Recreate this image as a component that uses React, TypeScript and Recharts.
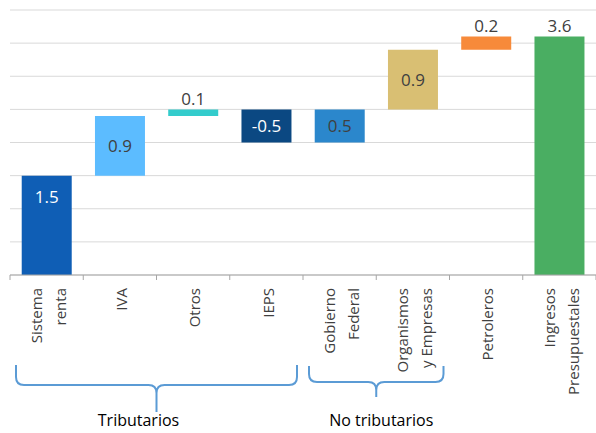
import { BarChart, Bar, XAxis, YAxis, CartesianGrid, Cell, LabelList } from 'recharts';

const categories = ['Sistema\nrenta', 'IVA', 'Otros', 'IEPS', 'Gobierno\nFederal', 'Organismos\ny Empresas', 'Petroleros', 'Ingresos\nPresupuestales'];
const changes = [1.5, 0.9, 0.1, -0.5, 0.5, 0.9, 0.2, 3.6];
const isTotal = [false, false, false, false, false, false, false, true];
const yTicks = [0, 0.5, 1, 1.5, 2, 2.5, 3, 3.5, 4];
const groupNames = ['Tributarios', 'No tributarios'];
const groupFirst = [0, 4];
const groupLast = [3, 5];

const barColors = ['#0F5EB5', '#5CBCFF', '#33CCCC', '#0B4882', '#2B87CC', '#D9BF73', '#F78A3A', '#4AAE62'];
const labelColors = ['#ffffff', '#404040', '#404040', '#ffffff', '#404040', '#404040', '#404040', '#404040'];

const W = 596;
const H = 433;
const margin = { top: 10, right: 0, bottom: 0, left: 10 };
const axisHeight = 158;
const baseY = H - axisHeight;
const band = (W - margin.left - margin.right) / categories.length;
const font = '"Open Sans", sans-serif';
const bracketColor = '#5B9BD5';

// waterfall: each step starts where the previous one ended, the total starts at zero
let running = 0;
const data = categories.map((name, i) => {
  const start = isTotal[i] ? 0 : running;
  const end = isTotal[i] ? changes[i] : running + changes[i];
  running = end;
  return { name, range: [Math.min(start, end), Math.max(start, end)] };
});

const CategoryTick = (props: any) => {
  const { x, payload, index } = props;
  const lines = String(payload.value).split('\n');
  const gap = 24;
  const edge = x - band / 2;
  return (
    <g>
      <line x1={edge} x2={edge} y1={baseY} y2={baseY + 5} stroke="#a6a6a6" />
      {index === categories.length - 1 && (
        <line x1={x + band / 2} x2={x + band / 2} y1={baseY} y2={baseY + 5} stroke="#a6a6a6" />
      )}
      {lines.map((t, i) => {
        const lx = x + (i - (lines.length - 1) / 2) * gap + 2;
        const ly = baseY + 13;
        return (
          <text key={i} x={lx} y={ly} dy="0.35em" textAnchor="end" transform={`rotate(-90, ${lx}, ${ly})`}
            fontSize={15} fill="#404040" fontFamily={font}>
            {t}
          </text>
        );
      })}
    </g>
  );
};

const ValueLabel = (props: any) => {
  const { x, y, width, height, index } = props;
  const top = Math.min(y, y + height);
  const h = Math.abs(height);
  let ty = top + h / 2;
  let color = labelColors[index];
  if (isTotal[index] || h < 20) {
    ty = top - 10;
    color = '#404040';
  } else if (h > 80) {
    ty = top + 21;
  }
  const v = changes[index];
  return (
    <text x={x + width / 2} y={ty} dy="0.35em" textAnchor="middle" fontSize={17} fill={color} fontFamily={font}>
      {v.toFixed(1)}
    </text>
  );
};

const Brackets = () => {
  const r = 8;
  const yTop = [365, 366];
  const yMid = [385, 382];
  const yTip = [412, 397];
  const textDx = [-18, 5];
  return (
    <svg width={W} height={H} style={{ position: 'absolute', left: 0, top: 0, pointerEvents: 'none' }}>
      {groupNames.map((g, i) => {
        const x1 = margin.left + groupFirst[i] * band + 6;
        const x2 = margin.left + (groupLast[i] + 1) * band - 6;
        const xm = (x1 + x2) / 2;
        const d = `M${x1},${yTop[i]} L${x1},${yMid[i] - r} Q${x1},${yMid[i]} ${x1 + r},${yMid[i]} L${xm - r},${yMid[i]} Q${xm},${yMid[i]} ${xm},${yMid[i] + r} L${xm},${yTip[i]} M${xm},${yMid[i] + r} Q${xm},${yMid[i]} ${xm + r},${yMid[i]} L${x2 - r},${yMid[i]} Q${x2},${yMid[i]} ${x2},${yMid[i] - r} L${x2},${yTop[i]}`;
        return (
          <g key={g}>
            <path d={d} fill="none" stroke={bracketColor} strokeWidth={2} />
            <text x={xm + textDx[i]} y={426} textAnchor="middle" fontSize={16} fill="#000" fontFamily={font}>
              {g}
            </text>
          </g>
        );
      })}
    </svg>
  );
};

export default function App() {
  return (
    <div style={{ position: 'absolute', left: 0, top: 0, width: W, height: H, background: '#fff', fontFamily: font }}>
      <BarChart width={W} height={H} data={data} margin={margin} barCategoryGap="16%">
        <CartesianGrid vertical={false} stroke="#d9d9d9" />
        <YAxis hide domain={[0, 4]} ticks={yTicks} />
        <XAxis dataKey="name" interval={0} height={axisHeight} tickLine={false} tickSize={5} tickMargin={0}
          axisLine={{ stroke: '#a6a6a6' }} tick={<CategoryTick />} />
        <Bar dataKey="range" isAnimationActive={false}>
          {data.map((d, i) => (
            <Cell key={d.name} fill={barColors[i]} />
          ))}
          <LabelList dataKey="range" content={<ValueLabel />} />
        </Bar>
      </BarChart>
      <Brackets />
    </div>
  );
}
